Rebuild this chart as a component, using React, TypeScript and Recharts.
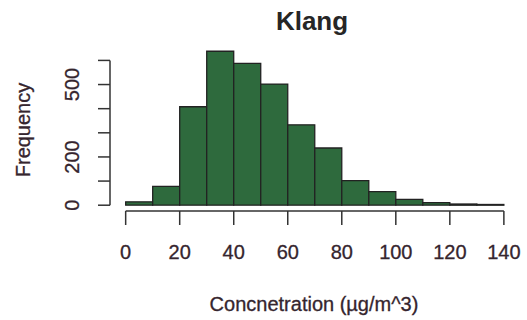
import React from 'react';
import { ComposedChart, Bar, XAxis, YAxis, ReferenceLine } from 'recharts';

// histogram bins (width 10) and counts
const binStart = [0, 10, 20, 30, 40, 50, 60, 70, 80, 90, 100, 110, 120, 130];
const counts = [14, 78, 408, 638, 588, 502, 333, 237, 102, 56, 24, 11, 5, 3];
const xTicks = [0, 20, 40, 60, 80, 100, 120, 140];
const yTicks = [0, 100, 200, 300, 400, 500, 600];
const yLabelled = [0, 200, 500];

const data = binStart.map((b, i) => ({ mid: b + 5, count: counts[i] }));

const X_DOMAIN: [number, number] = [-5.8, 145.6];
const Y_DOMAIN: [number, number] = [-24, 668];

const textColor = '#35252e';
const lineColor = '#333333';
const font = '"Liberation Sans", Arial, sans-serif';

const YTick = (props: any) => {
    const { x, y, payload } = props;
    if (!yLabelled.includes(payload.value)) return null;
    const tx = x - 17;
    return (
        <text
            x={tx}
            y={y}
            transform={`rotate(-90, ${tx}, ${y})`}
            textAnchor="middle"
            fill={textColor}
            stroke={textColor}
            strokeWidth={0.3}
            fontSize={20}
            fontFamily={font}
        >
            {payload.value}
        </text>
    );
};

export default function App() {
    return (
        <div style={{ position: 'absolute', left: 0, top: 0, width: 527, height: 320, background: '#fff' }}>
            <ComposedChart
                width={527}
                height={320}
                data={data}
                margin={{ top: 44, right: 8, left: 30, bottom: 0 }}
                barCategoryGap={0}
                barGap={0}
            >
                <XAxis
                    dataKey="mid"
                    type="number"
                    domain={X_DOMAIN}
                    allowDataOverflow
                    ticks={xTicks}
                    interval={0}
                    height={109}
                    axisLine={false}
                    tickSize={14}
                    tickMargin={20}
                    tickLine={{ stroke: lineColor, strokeWidth: 1.5 }}
                    tick={{ fill: textColor, stroke: textColor, strokeWidth: 0.3, fontSize: 20, fontFamily: font }}
                />
                <YAxis
                    type="number"
                    domain={Y_DOMAIN}
                    allowDataOverflow
                    ticks={yTicks}
                    interval={0}
                    width={80}
                    axisLine={false}
                    tickSize={12}
                    tickLine={{ stroke: lineColor, strokeWidth: 1.5 }}
                    tick={<YTick />}
                />
                <Bar
                    dataKey="count"
                    fill="#2e6a3d"
                    stroke="#222222"
                    strokeWidth={1.3}
                    isAnimationActive={false}
                />
                <ReferenceLine
                    segment={[{ x: X_DOMAIN[0], y: 0 }, { x: X_DOMAIN[0], y: 600 }]}
                    stroke={lineColor}
                    strokeWidth={1.5}
                />
                <ReferenceLine
                    segment={[{ x: 0, y: Y_DOMAIN[0] }, { x: 140, y: Y_DOMAIN[0] }]}
                    stroke={lineColor}
                    strokeWidth={1.5}
                />
            </ComposedChart>
            <svg
                width={527}
                height={320}
                style={{ position: 'absolute', left: 0, top: 0, pointerEvents: 'none' }}
            >
                <text x={312} y={30} textAnchor="middle" fontSize={26} fontWeight="bold" fill="#262626" fontFamily={font}>
                    Klang
                </text>
                <text
                    x={314}
                    y={311}
                    textAnchor="middle"
                    fontSize={20}
                    fill={textColor}
                    stroke={textColor}
                    strokeWidth={0.3}
                    fontFamily={font}
                >
                    Concnetration (µg/m^3)
                </text>
                <text
                    x={30}
                    y={130}
                    transform="rotate(-90, 30, 130)"
                    textAnchor="middle"
                    fontSize={20}
                    fill={textColor}
                    stroke={textColor}
                    strokeWidth={0.3}
                    fontFamily={font}
                >
                    Frequency
                </text>
            </svg>
        </div>
    );
}
